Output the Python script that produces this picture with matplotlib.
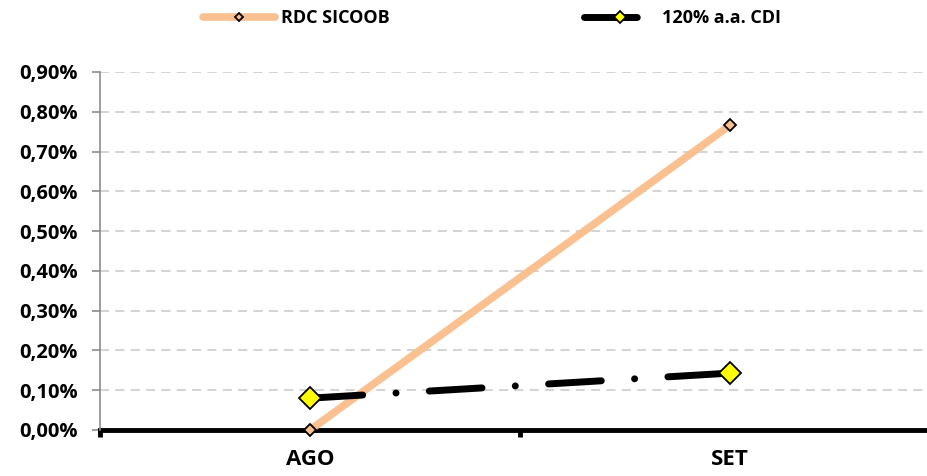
import numpy as np
import matplotlib.pyplot as plt
from matplotlib.ticker import FuncFormatter

months = ['AGO', 'SET']
rdc_sicoob = [0.0, 0.766]   # % ao mês
cdi_120 = [0.080, 0.143]    # % ao mês
y_ticks = np.arange(0, 0.91, 0.1)

plt.rcParams['font.family'] = ['Open Sans', 'DejaVu Sans']
plt.rcParams['font.weight'] = 'bold'

fig = plt.figure(figsize=(9.28, 4.76), dpi=100)
ax = fig.add_axes([100 / 928, 46 / 476, 840 / 928, 358 / 476])

x = np.arange(len(months))

ax.plot(x, rdc_sicoob, color='#FAC090', lw=5.5, solid_capstyle='round',
        marker='D', ms=6.5, mfc='#FAC090', mec='black', mew=1.3,
        label='RDC SICOOB', zorder=3, clip_on=False)
ax.plot(x, cdi_120, color='black', lw=5, dashes=(7.6, 4.8, 0.01, 4.8),
        dash_capstyle='round', solid_capstyle='round',
        marker='D', ms=11, mfc='#FFFF00', mec='black', mew=1.3,
        label='120% a.a. CDI', zorder=4)

ax.set_xlim(-0.5, 1.5)
ax.set_ylim(0, 0.9)
ax.set_yticks(y_ticks)
ax.yaxis.set_major_formatter(FuncFormatter(lambda v, p: f'{v:.2f}%'.replace('.', ',')))
ax.set_xticks([-0.5, 0.5, 1.5])
ax.set_xticklabels([])
ax.set_xticks(x, minor=True)
ax.set_xticklabels(months, minor=True, fontsize=16, fontweight='bold')
ax.tick_params(axis='x', which='minor', length=0, pad=14)
ax.tick_params(axis='x', which='major', length=5, width=3.5, color='black', direction='out')
ax.tick_params(axis='y', length=6, width=1.2, color='#8C8C8C', labelsize=14.5, pad=10)

ax.yaxis.grid(True, color='#D0D0D0', ls=(0, (5, 3.5)), lw=1.3)
ax.set_axisbelow(True)
for side in ('top', 'right'):
    ax.spines[side].set_visible(False)
ax.spines['left'].set_color('#8C8C8C')
ax.spines['left'].set_linewidth(1.2)
ax.spines['bottom'].set_color('black')
ax.spines['bottom'].set_linewidth(3.5)
ax.spines['bottom'].set_zorder(2)

leg = fig.legend(loc='center', bbox_to_anchor=(492 / 928, 1 - 18 / 476), ncol=2,
                 frameon=False, fontsize=13, handlelength=4, columnspacing=10.8,
                 handletextpad=0.3, markerscale=0.6)

fig.savefig('out.png', dpi=100)
